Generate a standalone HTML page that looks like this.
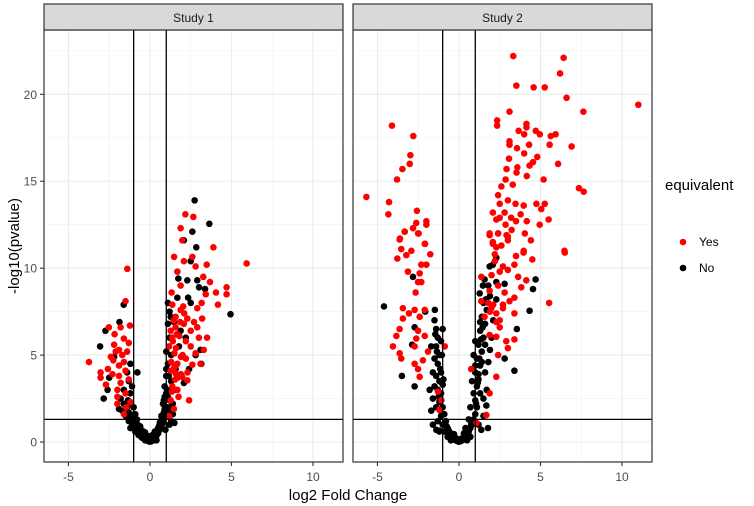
<!DOCTYPE html>
<html><head><meta charset="utf-8">
<style>
html,body{margin:0;padding:0;background:#fff;}
svg{display:block;font-family:"Liberation Sans",Arial,sans-serif;}
</style></head>
<body>
<svg id="chart" width="754" height="506" viewBox="0 0 754 506"></svg>
<script>
// Study 1 data
const s1YesX=[2.17,2.66,1.88,1.98,3.89,1.48,2.6,5.93,-1.39,2.08,3.48,2.8,1.68,3.27,3.68,1.88,1.33,4.7,4.7,4.05,3.42,3.17,4.17,-1.5,1.37,2.04,2.9,3.2,-2.52,-2.17,-1.8,-1.23,-1.6,-1.3,-2.2,-1.9,-3.74,-3.03,-3.03,-2.58,-2.25,-1.9,-1.5,-1.8,-2.0,-1.5,-2.0,-1.2,-1.6,1.27,1.57,2.08,2.5,2.9,3.0,3.5,3.3,2.8,1.17,1.5,1.9,1.68,1.27,1.57,1.98,2.29,1.37,1.68,2.4,1.27,1.47,1.17,2.6,3.1,2.2,2.5,1.37,1.57,1.88,2.29,2.7,
1.4,1.6,1.8,2.0,2.2,1.3,1.5,1.7,1.9,2.3,1.45,1.65,1.85,2.1,1.35,1.55,1.75,-1.4,-1.7,-2.1,-2.4,-1.6,-1.9,-2.3,-1.3,-2.7,-2.0,-1.45];
const s1YesY=[13.1,12.95,12.3,11.6,11.2,10.65,10.65,10.27,9.96,10.4,10.2,10.1,9.8,9.5,9.2,9.0,8.6,8.9,8.5,8.6,8.5,8.0,7.9,8.1,7.9,7.8,7.7,7.1,6.6,6.2,6.6,6.7,5.95,5.7,5.6,5.3,4.6,4.0,3.7,4.2,4.7,4.4,4.1,3.4,3.0,2.8,2.2,2.3,1.6,6.4,6.6,6.8,6.4,6.6,6.0,6.0,5.3,5.1,5.5,5.1,4.9,4.5,4.1,3.95,3.75,3.55,3.2,3.0,2.4,2.4,1.9,1.5,4.45,4.5,5.8,5.5,6.0,7.2,7.6,7.1,6.9,
5.8,5.4,6.1,5.0,4.8,4.6,4.3,3.7,3.9,4.0,7.0,6.2,6.9,7.4,2.9,3.6,2.6,5.2,5.0,5.2,4.9,4.6,3.8,3.9,3.6,3.3,2.6,2.0];
const s1NoX=[2.74,3.64,2.6,2.08,2.84,2.5,1.74,2.29,2.9,3.38,3.01,4.94,-1.61,-1.87,-2.73,-3.06,-2.2,-2.5,-2.6,-2.84,3.15,2.8,2.4,2.34,2.5,1.68,1.27,1.47,1.88,2.2,3.1,1.78,1.57,2.08,-0.77,
-1.8,-1.6,-1.4,-1.3,-1.2,-1.1,-1.0,-0.9,-0.8,-0.7,-0.6,-0.5,-0.4,-0.3,-0.2,-0.1,0,-1.5,-1.3,-1.1,-0.9,-0.7,-0.5,-0.3,-1.6,-1.3,-1.2,-1.0,-0.9,-1.4,-1.2,-1.1,-0.8,-0.6,-1.7,-1.9,-1.2,-0.4,
0.1,0.2,0.3,0.4,0.5,0.6,0.7,0.8,0.9,1.0,1.1,1.2,1.0,0.9,1.0,1.1,1.0,1.2,1.1,1.3,0.8,0.7,0.6,0.5,0.3,1.3,1.5,1.4,1.2,0.95,0.4,0.2,1.1,0.9,1.3,1.2,1.1,1.0,1.4,1.5,
-0.85,-0.75,-0.65,-0.55,-0.45,-0.35,-0.25,-0.15,-0.05,0.05,0.15,0.25,0.35,0.45,0.55,0.65,0.75,0.85,-1.05,-0.95,1.05,1.15,0.95,0.85,1.25,1.35,-1.25,-1.35,0.15,-0.15,0.3,-0.3,0.0,0.1,-0.1,1.05,1.15,0.9];
const s1NoY=[13.9,12.55,12.1,11.6,11.2,10.4,9.4,9.3,9.3,8.8,8.9,7.35,7.9,6.9,6.4,5.5,4.9,3.7,3.0,2.5,4.5,5.0,4.2,8.3,8.0,8.3,7.2,6.9,6.4,6.0,5.3,5.5,4.2,3.4,4.0,
2.5,2.2,2.0,1.7,1.5,1.3,1.1,0.9,0.8,0.6,0.5,0.4,0.3,0.2,0.1,0.05,0.02,1.5,1.2,0.9,0.6,0.4,0.25,0.1,3.0,3.5,2.8,2.0,1.6,4.0,4.5,3.2,1.3,0.9,1.8,1.9,0.8,0.6,
0.05,0.1,0.2,0.35,0.5,0.7,0.9,1.1,1.4,1.7,2.0,2.4,2.8,3.2,3.8,4.5,5.2,6.0,6.8,3.5,2.2,1.5,1.1,0.8,0.4,1.2,1.1,1.6,1.0,0.7,0.1,0.3,2.6,1.9,5.0,7.5,8.0,4.2,2.2,3.0,
1.2,1.0,0.8,0.7,0.5,0.35,0.2,0.15,0.05,0.05,0.15,0.25,0.4,0.6,0.9,1.2,1.4,1.7,1.4,1.6,1.5,1.7,2.0,2.4,2.0,1.8,2.2,2.4,0.4,0.35,0.6,0.55,0.2,0.25,0.3,3.0,3.8,2.6];
// Study 2 data
const s2YesX=[3.33,6.42,6.2,3.52,4.58,5.26,6.6,11.0,3.1,7.63,-4.11,-2.8,-2.98,-3.02,-3.47,-3.8,-5.68,-4.29,-4.33,-2.58,-2.62,-2.0,-2.0,-2.82,-2.47,-3.33,-3.62,-2.08,
2.34,2.34,4.14,4.14,3.66,4.0,4.71,4.96,5.63,5.93,3.1,3.1,4.3,5.56,6.91,3.56,4.0,4.8,3.07,4.54,4.33,6.08,3.58,2.92,4.16,3.53,5.19,2.86,2.6,3.3,7.36,7.65,2.4,3.0,3.47,3.97,2.5,4.75,5.26,5.05,2.08,2.8,2.5,3.2,3.78,4.16,5.5,4.95,2.29,2.86,3.5,1.88,2.4,2.92,3.23,4.04,4.41,3.0,6.47,3.97,2.08,2.29,
-3.33,-2.51,-3.64,-2.1,-2.92,-3.54,-3.23,-3.78,-1.76,-2.31,-2.0,-3.13,-2.41,-2.51,-2.31,-2.66,-3.44,-3.07,-2.72,-2.1,-2.41,-3.44,-3.64,-2.51,-3.84,-2.62,-2.1,-4.05,-3.64,-3.54,-2.72,-1.9,-2.21,-2.72,-2.51,-2.41,-1.29,-1.08,-0.87,
6.49,5.53,1.88,2.4,2.08,3.0,3.5,3.96,4.5,3.4,2.7,3.0,2.5,1.37,3.63,4.13,3.82,1.88,3.1,3.4,1.37,1.98,2.29,2.7,3.4,1.57,2.5,1.88,2.29,2.9,3.4,3.0,2.4,2.29,1.88,0.75,1.68,1.07,-1.2,
2.2,2.6,2.0,2.4,2.8,2.1,2.5,1.9,2.3,2.7,1.8,2.2];
const s2YesY=[22.2,22.1,21.2,20.5,20.4,20.4,19.8,19.4,19.0,19.0,18.2,17.6,16.5,16.0,15.7,15.1,14.1,13.8,13.1,13.3,12.6,12.7,12.5,12.3,12.0,12.1,11.7,11.4,
18.5,18.2,18.3,18.1,17.9,17.7,17.9,17.7,17.6,17.7,17.3,17.1,17.1,17.1,17.0,16.9,16.6,16.4,16.3,16.1,15.9,16.0,15.8,15.7,15.3,15.5,15.1,15.1,14.7,14.8,14.6,14.4,14.2,13.9,13.7,13.6,13.7,13.7,13.7,13.4,13.2,13.2,12.9,12.9,13.1,12.7,12.8,12.5,12.8,12.5,12.7,11.9,12.0,11.9,12.2,12.0,11.6,11.6,11.0,11.0,11.4,11.2,
12.1,12.0,11.65,11.4,11.0,11.1,10.75,10.55,10.8,10.2,10.2,9.8,9.7,9.2,9.2,8.6,7.7,7.4,7.6,7.6,7.2,7.1,6.5,6.4,6.1,5.95,6.1,5.5,5.1,4.8,5.5,5.2,4.7,4.5,4.2,3.75,2.9,2.4,5.5,
10.9,8.0,12.0,12.0,11.5,11.8,10.7,10.9,10.5,10.2,10.1,9.9,9.8,9.5,9.5,9.3,8.9,8.7,8.1,8.3,8.1,7.7,7.4,7.7,7.4,7.2,6.6,6.15,6.05,5.8,5.9,5.4,5.0,3.75,2.8,4.2,1.55,1.1,1.85,
10.8,11.3,9.6,9.0,8.6,7.9,7.0,7.5,6.9,7.9,8.0,10.4];
const s2NoX=[-4.6,-2.82,4.7,4.54,4.33,3.55,3.4,-3.5,-2.72,-2.87,-2.72,-2.07,-1.48,2.8,1.68,1.78,1.37,-1.39,-1.2,2.29,2.08,1.88,1.57,2.29,2.8,1.47,1.27,1.68,2.29,
-1.5,-1.4,-1.3,-1.4,-1.2,-1.3,-1.1,-1.4,-1.2,-1.5,-1.3,-1.1,-1.6,-1.2,-1.0,-1.4,-0.9,-1.1,-1.3,-0.8,-1.0,-0.7,-0.9,-0.6,-0.5,-0.4,-0.3,-0.2,-0.1,0,-0.7,-0.5,-1.2,-1.6,-1.7,-1.0,-1.1,-1.6,-1.7,-1.0,-1.8,-1.5,
0.1,0.2,0.3,0.4,0.5,0.6,0.7,0.8,0.9,1.0,1.1,1.0,0.9,1.1,1.2,1.0,1.3,1.1,1.4,1.2,1.5,1.3,1.6,1.4,1.7,1.5,1.9,0.8,0.7,0.6,0.4,1.5,1.7,1.6,1.8,1.9,2.0,0.5,0.7,1.2,1.5,1.3,2.1,1.8,0.9,1.0,
-0.85,-0.75,-0.65,-0.55,-0.45,-0.35,-0.25,-0.15,-0.05,0.05,0.15,0.25,0.35,0.45,0.55,0.65,0.75,0.85,-1.25,-1.15,-1.35,-1.45,-1.05,-0.95,1.05,1.15,1.25,1.35,1.45,1.55,1.65,1.2,1.4,1.6,1.3,1.0,0.3,-0.3,0.0,0.15,-0.15];
const s2NoY=[7.8,9.5,9.35,8.8,7.55,6.5,4.1,3.8,3.2,5.6,6.6,7.5,7.6,4.8,2.1,0.8,0.7,0.7,0.65,10.6,10.2,10.1,9.35,9.2,9.1,9.0,8.55,8.2,8.2,
7.0,6.5,6.0,5.5,5.0,4.5,4.0,3.8,3.5,3.2,3.0,2.8,2.5,2.3,2.0,2.0,1.6,1.5,1.2,1.2,1.0,0.8,0.6,0.5,0.35,0.25,0.15,0.1,0.05,0.02,0.3,0.1,0.6,1.0,1.8,6.5,5.8,4.0,5.5,3.3,3.0,4.8,
0.05,0.1,0.2,0.3,0.45,0.6,0.8,1.0,1.3,1.6,2.0,2.4,2.8,3.2,3.6,4.0,4.4,4.8,5.2,5.6,6.0,6.4,6.8,7.2,7.6,8.0,8.4,3.5,2.0,1.3,0.8,2.5,3.0,4.0,4.6,5.3,6.0,0.1,0.3,1.0,1.5,2.8,7.0,9.0,5.0,5.8,
1.1,0.9,0.7,0.55,0.4,0.3,0.2,0.12,0.05,0.05,0.12,0.2,0.3,0.45,0.6,0.8,1.0,1.2,2.6,4.2,5.2,6.2,5.0,3.6,2.2,3.4,4.8,5.9,6.6,7.2,8.2,3.9,4.6,5.6,6.9,4.4,0.5,0.45,0.1,0.2,0.2];
const xTicks=[-5,0,5,10];
const yTicks=[0,5,10,15,20];
const panelTitles=["Study 1","Study 2"];

const NS="http://www.w3.org/2000/svg";
const svg=document.getElementById('chart');
const X0=-6.5,X1=11.84,Y0=-1.15,Y1=23.7;
const PT=30,PB=462,PW=299;
const R=3.3;
const panelLeft=[44,353];
function mk(tag,attrs,parent){const e=document.createElementNS(NS,tag);for(const k in attrs)e.setAttribute(k,attrs[k]);(parent||svg).appendChild(e);return e;}
function xs(p,v){return panelLeft[p]+(v-X0)/(X1-X0)*PW;}
function ys(v){return PB-(v-Y0)/(Y1-Y0)*(PB-PT);}

const data=[[s1NoX,s1NoY,s1YesX,s1YesY],[s2NoX,s2NoY,s2YesX,s2YesY]];
for(let p=0;p<2;p++){
  const L=panelLeft[p];
  const g=mk('g',{});
  
  
  for(const v of [-2.5,2.5,7.5]){const l=mk('line',{x1:xs(p,v),x2:xs(p,v),y1:PT,y2:PB,stroke:'#f4f4f4','stroke-width':0.8},g);}
  for(const v of [2.5,7.5,12.5,17.5,22.5]){const l=mk('line',{x1:L,x2:L+PW,y1:ys(v),y2:ys(v),stroke:'#f4f4f4','stroke-width':0.8},g);}
  for(const v of xTicks){const l=mk('line',{x1:xs(p,v),x2:xs(p,v),y1:PT,y2:PB,stroke:'#ebebeb','stroke-width':1.1},g);}
  for(const v of yTicks){const l=mk('line',{x1:L,x2:L+PW,y1:ys(v),y2:ys(v),stroke:'#ebebeb','stroke-width':1.1},g);}
  const [nx,ny,yx,yy]=data[p];
  for(let i=0;i<nx.length;i++){const c=mk('circle',{cx:xs(p,nx[i]),cy:ys(ny[i]),r:R,fill:'#000'},g);}
  for(let i=0;i<yx.length;i++){const c=mk('circle',{cx:xs(p,yx[i]),cy:ys(yy[i]),r:R,fill:'#ff0000'},g);}
  for(const v of [-1,1]){const l=mk('line',{x1:xs(p,v),x2:xs(p,v),y1:PT,y2:PB,stroke:'#000','stroke-width':1.3},g);}
  const h=mk('line',{x1:L,x2:L+PW,y1:ys(1.3),y2:ys(1.3),stroke:'#000','stroke-width':1.3},g);
  
  
  const b=mk('rect',{x:L,y:PT,width:PW,height:PB-PT,fill:'none',stroke:'#333','stroke-width':1.2},g);
  
  
  const s=mk('rect',{x:L,y:4,width:PW,height:PT-4,fill:'#d9d9d9',stroke:'#333','stroke-width':1.2},g);
  
  
  const st=mk('text',{x:L+PW/2,y:22,'text-anchor':'middle','font-size':12,fill:'#1a1a1a'},g);
  st.textContent=panelTitles[p];
  
  
  for(const v of xTicks){
    const t=mk('line',{x1:xs(p,v),x2:xs(p,v),y1:PB,y2:PB+4,stroke:'#333','stroke-width':1.1},g);
    
    
    const tl=mk('text',{x:xs(p,v),y:481,'text-anchor':'middle','font-size':12,fill:'#4d4d4d'},g);
    tl.textContent=v;
    
    
  }
}
for(const v of yTicks){
  const t=mk('line',{x1:40,x2:44,y1:ys(v),y2:ys(v),stroke:'#333','stroke-width':1.1});
  
  
  const tl=mk('text',{x:37,y:ys(v)+4.5,'text-anchor':'end','font-size':12,fill:'#4d4d4d'});
  tl.textContent=v;
  
  
}
const xt=mk('text',{x:348,y:500,'text-anchor':'middle','font-size':15,fill:'#000'});
xt.textContent='log2 Fold Change';


const yt=mk('text',{x:0,y:0,'text-anchor':'middle','font-size':15,fill:'#000',transform:'translate(19,246) rotate(-90)'});
yt.textContent='-log10(pvalue)';


const lg=mk('g',{});


const lt=mk('text',{x:665,y:190,'font-size':15,fill:'#000'},lg);
lt.textContent='equivalent';


const labels=['Yes','No'],cols=['#ff0000','#000'];
for(let i=0;i<2;i++){
  const c=mk('circle',{cx:683,cy:242+i*26,r:R,fill:cols[i]},lg);
  
  
  const t=mk('text',{x:699,y:246+i*26,'font-size':12,fill:'#000'},lg);
  t.textContent=labels[i];
  
  
}
</script>
</body></html>
